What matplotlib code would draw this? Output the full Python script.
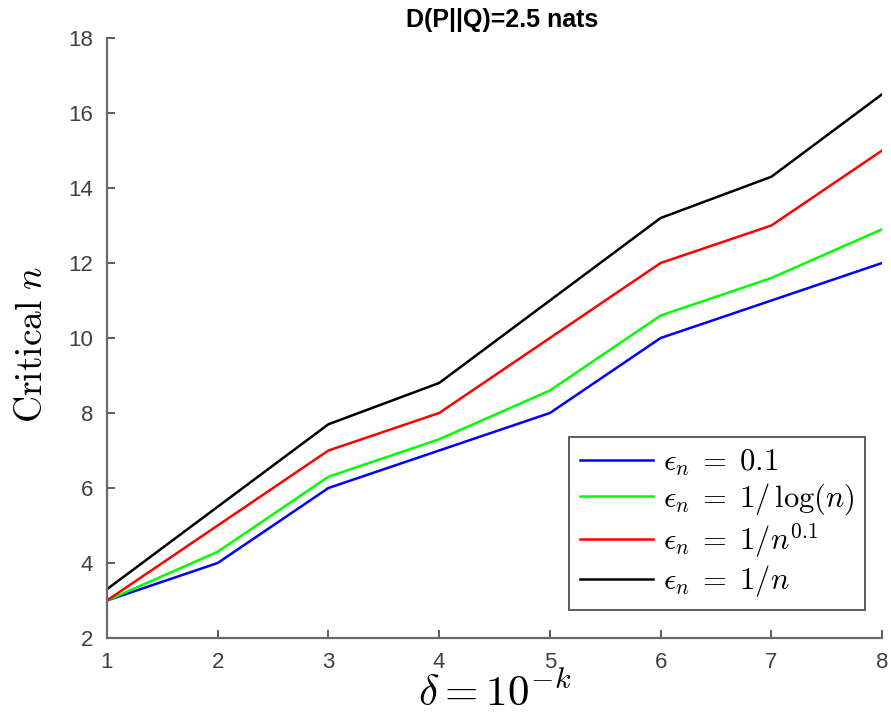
import matplotlib
matplotlib.use("Agg")
import matplotlib.pyplot as plt

plt.rcParams['mathtext.fontset'] = 'cm'
plt.rcParams['font.family'] = ['Liberation Sans', 'DejaVu Sans']

k = [1, 2, 3, 4, 5, 6, 7, 8]
eps_const = [3, 4, 6, 7, 8, 10, 11, 12]
eps_log = [3, 4.3, 6.3, 7.3, 8.6, 10.6, 11.6, 12.9]
eps_pow = [3, 5, 7, 8, 10, 12, 13, 15]
eps_inv = [3.3, 5.5, 7.7, 8.8, 11, 13.2, 14.3, 16.5]

labels = [r'$\epsilon_n \;=\; 0.1$', r'$\epsilon_n \;=\; 1/\,\log(n)$',
          r'$\epsilon_n \;=\; 1/n^{0.1}$', r'$\epsilon_n \;=\; 1/n$']
colors = ['#0000ff', '#00ff00', '#ff0000', '#000000']

fig = plt.figure(figsize=(8.91, 7.28), dpi=100)
ax = fig.add_axes([0.120, 0.1236, 0.870, 0.8242])
for ys, c, lab in zip([eps_const, eps_log, eps_pow, eps_inv], colors, labels):
    ax.plot(k, ys, color=c, lw=1.8, label=lab)

ax.set_xlim(1, 8)
ax.set_ylim(2, 18)
ax.set_xticks(k)
ax.set_yticks(range(2, 19, 2))
for s in ['top', 'right']:
    ax.spines[s].set_visible(False)
for s in ['left', 'bottom']:
    ax.spines[s].set_color('#6a6a6a')
    ax.spines[s].set_linewidth(1.6)
ax.tick_params(direction='in', length=6, width=1.2, color='#404040',
               labelcolor='#404040', labelsize=16)
ax.tick_params(axis='y', pad=10)
ax.tick_params(axis='x', pad=10)

ax.set_title('D(P||Q)=2.5 nats', fontsize=18, fontweight='bold', pad=8, x=0.51)
ax.set_xlabel(r'$\delta = 10^{-k}$', fontsize=31, labelpad=0)
ax.set_ylabel(r'$\mathrm{Critical}\ n$', fontsize=27, labelpad=10)
ax.yaxis.set_label_coords(-0.074, 0.49)

leg = ax.legend(loc='upper right', fontsize=22, frameon=True, fancybox=False,
                edgecolor='#333333', borderpad=0.35, handlelength=2.4,
                handletextpad=0.3, labelspacing=0.12, borderaxespad=0,
                bbox_to_anchor=(0.9708, 0.3997), bbox_transform=fig.transFigure)
leg.get_frame().set_linewidth(1.4)

fig.savefig('out.png', dpi=100)
